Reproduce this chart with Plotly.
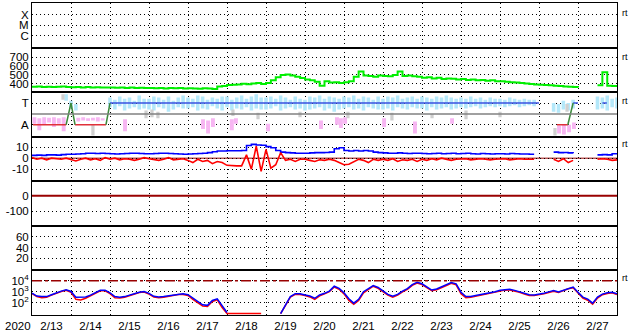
import plotly.graph_objects as go
from plotly.subplots import make_subplots
import pandas as pd

# ---------------- data ----------------
times3h = pd.date_range("2020-02-13 00:00", "2020-02-28 00:00", freq="3h")  # 121 samples

wind_speed = [
    368, 372, 365, 370, 366, 368, 372, 366,
    364, 366, 362, 365, 360, 364, 362, 360,
    362, 358, 360, 356, 360, 355, 358, 355,
    356, 352, 355, 350, 354, 352, 356, 350,
    352, 350, 348, 352, 350, 345, 372, 378,
    388, 392, 395, 402, 398, 405, 410, 400,
    410, 440, 475, 500, 505, 495, 480, 465,
    450, 440, 425, 380, 430, 415, 420, 410,
    420, 430, 480, 540, 495, 488, 480, 495,
    490, 485, 500, 540, 490, 495, 485, 480,
    470, 475, 460, 468, 455, 462, 458, 450,
    455, 445, 450, 440, 445, 435, 440, 430,
    430, 425, 420, 415, 410, 405, 400, 395,
    392, 388, 385, 380, 378, 372, 368, 365,
    362, None, None, None, 385, 530, 380, 378,
    375]

b_total = [
    2.5, 2.8, 2.5, 3.0, 3.0, 2.8, 3.2, 3.5,
    3.5, 3.8, 4.0, 4.5, 4.5, 4.2, 4.5, 4.3,
    4.0, 3.8, 4.0, 4.2, 4.5, 4.5, 4.3, 4.0,
    4.0, 4.2, 4.5, 4.5, 4.2, 4.0, 3.8, 3.5,
    3.8, 4.0, 4.2, 4.5, 5.0, 5.8, 6.5, 6.5,
    6.8, 6.8, 6.8, 7.0, 11.5, 12.5, 12.0, 11.8,
    10.5, 9.5, 7.0, 5.5, 5.0, 4.8, 4.5, 4.5,
    4.5, 4.8, 5.0, 5.0, 5.2, 5.5, 8.5, 9.5,
    7.0, 6.5, 7.0, 6.5, 7.0, 6.5, 5.5, 5.0,
    4.8, 4.5, 4.5, 4.8, 4.5, 4.2, 4.5, 4.5,
    4.2, 4.0, 4.2, 4.5, 4.0, 4.2, 4.5, 4.0,
    4.2, 4.5, 4.0, 3.8, 4.2, 4.0, 3.8, 4.0,
    4.0, 3.8, 4.2, 4.0, 3.8, 3.8, 3.5, 3.5,
    None, None, None, 5.5, 5.0, 5.2, 4.8, 4.5,
    None, None, None, None, 3.0, 3.2, 3.0, 4.0,
    4.0]

b_z = [
    0.5, -1.0, 0.0, -1.5, 0.0, -0.5, -1.0, 0.0,
    -1.0, -2.5, -1.0, 0.0, -1.5, -0.5, -2.0, 0.5,
    -1.0, 0.0, -1.5, -0.5, -1.0, -2.0, -1.0, 0.5,
    -0.5, -1.0, -2.0, -1.0, 0.5, -1.5, -1.0, -0.5,
    -2.0, -4.0, -1.0, -3.0, -2.0, -5.0, -3.0, -4.0,
    -6.5, -7.0, -7.0, -7.0, 3.0, -10.0, 11.0, -12.0,
    8.0, -9.0, -6.0, 5.0, -2.0, -1.0, -3.0, -1.0,
    -1.0, -2.0, -3.0, -1.5, -2.0, -1.0, -2.0, -4.0,
    -6.0, -5.5, -3.0, -1.0, -2.0, -4.0, -1.0, -2.0,
    -1.0, -2.0, -0.5, -3.0, -1.5, -2.0, -1.0, -3.0,
    -1.0, -2.0, -0.5, -1.5, 0.0, -1.0, -2.0, -1.0,
    -1.0, -0.5, -1.5, -1.0, -0.5, -1.0, -1.5, -1.0,
    -1.0, -0.5, -1.5, -1.0, -0.5, -1.0, -1.0, -1.0,
    None, None, None, -1.0, -3.0, -0.5, -4.0, -2.0,
    None, None, None, None, -1.0, -0.5, -1.0, -2.0,
    -1.5]

# electron flux, given as log10 exponent
flux_blue_exp = [
    2.86, 2.60, 2.56, 2.55, 2.72, 2.90, 3.05, 3.17,
    3.02, 2.50, 2.50, 2.52, 2.68, 2.90, 3.12, 3.14,
    2.90, 2.55, 2.50, 2.55, 2.70, 2.85, 2.95, 3.02,
    2.85, 2.58, 2.52, 2.55, 2.62, 2.72, 2.78, 2.80,
    2.72, 2.40, 2.10, 1.80, 1.75, 2.20, 2.35, 1.70,
    1.10, None, None, None, None, None, None, None,
    None, None, None, 1.00, 1.75, 2.56, 2.82, 2.80,
    2.70, 2.60, 2.40, 2.70, 2.85, 3.05, 3.50, 3.30,
    2.90, 2.35, 1.95, 2.30, 3.00, 3.30, 3.55, 3.38,
    3.05, 2.75, 2.58, 2.75, 3.05, 3.28, 3.65, 3.85,
    3.72, 3.45, 3.15, 3.25, 3.45, 3.62, 3.83, 3.72,
    2.95, 2.55, 2.55, 2.65, 2.72, 2.80, 2.88, 3.00,
    3.12, 3.20, 3.22, 3.12, 3.00, 2.85, 2.72, 2.70,
    2.75, 2.85, 2.98, 3.10, 2.98, 3.15, 3.30, 3.42,
    2.95, 2.50, 2.32, 1.95, 2.50, 2.78, 2.90, 2.95,
    2.80]

flux_red_exp = [
    2.82, 2.55, 2.45, 2.50, 2.68, 2.86, 3.02, 3.12,
    2.95, 2.30, 2.25, 2.40, 2.62, 2.86, 3.08, 3.08,
    2.82, 2.45, 2.42, 2.50, 2.66, 2.80, 2.92, 2.96,
    2.78, 2.50, 2.45, 2.50, 2.58, 2.68, 2.74, 2.75,
    2.65, 2.30, 2.00, 1.70, 1.65, 2.10, 2.25, 1.55,
    1.00, 1.00, 1.00, 1.00, 1.00, 1.00, 1.00, 1.00,
    None, None, None, 1.00, 1.70, 2.50, 2.76, 2.74,
    2.65, 2.52, 2.30, 2.62, 2.80, 3.00, 3.42, 3.22,
    2.80, 2.20, 1.85, 2.20, 2.90, 3.22, 3.50, 3.30,
    2.98, 2.68, 2.50, 2.68, 2.98, 3.22, 3.58, 3.78,
    3.65, 3.38, 3.08, 3.18, 3.40, 3.56, 3.76, 3.62,
    2.82, 2.45, 2.48, 2.58, 2.66, 2.74, 2.82, 2.94,
    3.06, 3.14, 3.16, 3.06, 2.94, 2.78, 2.66, 2.64,
    2.70, 2.80, 2.92, 3.04, 2.92, 3.10, 3.26, 3.36,
    2.85, 2.42, 2.22, 1.85, 2.42, 2.72, 2.84, 2.90,
    2.74]

# toward-sector cloud extent (T = 1, A = -1 on the sector scale)
toward_hi = [
    None, None, None, None, None, None, None, 1.8,
    1.2, 0.9, None, None, None, None, None, None,
    1.5, 1.3, 1.6, 1.4, 1.5, 1.2, 1.7, 1.4,
    1.4, 1.6, 1.5, 1.3, 1.6, 1.2, 1.5, 1.7,
    1.5, 1.4, 1.7, 1.6, 1.3, 1.5, 1.4, 1.6,
    1.6, 1.3, 1.5, 1.7, 1.4, 1.6, 1.8, 1.5,
    1.5, 1.6, 1.4, 1.7, 1.5, 1.3, 1.6, 1.4,
    1.3, 1.6, 1.5, 1.7, 1.4, 1.6, 1.5, 1.4,
    1.6, 1.5, 1.7, 1.4, 1.6, 1.5, 1.3, 1.6,
    1.4, 1.6, 1.5, 1.7, 1.4, 1.5, 1.6, 1.4,
    1.6, 1.5, 1.4, 1.6, 1.5, 1.7, 1.5, 1.4,
    1.5, 1.4, 1.6, 1.4, 1.5, 1.3, 1.5, 1.4,
    1.4, 1.3, 1.5, 1.4, 1.3, 1.4, 1.3, 1.3,
    None, None, None, 1.0, 0.9, 1.2, 1.0, 1.3,
    None, None, None, None, 1.6, 1.5, 1.7, 1.4,
    1.5]
toward_lo = [
    None, None, None, None, None, None, None, 1.2,
    0.5, 0.3, None, None, None, None, None, None,
    0.6, 0.4, 0.7, 0.3, 0.5, 0.6, 0.4, 0.5,
    0.4, 0.3, 0.6, 0.5, 0.2, 0.4, 0.6, 0.5,
    0.5, 0.6, 0.3, 0.5, 0.4, 0.7, 0.5, 0.3,
    0.6, 0.3, 0.5, 0.4, 0.6, 0.3, 0.5, 0.4,
    0.4, 0.5, 0.7, 0.3, 0.5, 0.6, 0.4, 0.5,
    0.3, 0.4, 0.5, 0.6, 0.3, 0.5, 0.2, 0.4,
    0.5, 0.6, 0.4, 0.5, 0.3, 0.6, 0.5, 0.4,
    0.4, 0.5, 0.3, 0.6, 0.5, 0.4, 0.6, 0.5,
    0.5, 0.3, 0.6, 0.4, 0.5, 0.6, 0.4, 0.5,
    0.6, 0.5, 0.6, 0.7, 0.5, 0.6, 0.7, 0.6,
    0.7, 0.6, 0.7, 0.8, 0.6, 0.7, 0.8, 0.7,
    None, None, None, 0.2, 0.1, 0.4, 0.3, 0.5,
    None, None, None, None, 0.4, 0.5, 0.3, 0.6,
    0.5]

away_time = [
    "2020-02-13 01:30", "2020-02-13 04:30", "2020-02-13 07:30", "2020-02-13 10:30",
    "2020-02-13 13:30", "2020-02-13 16:30", "2020-02-13 19:30",
    "2020-02-14 04:30", "2020-02-14 07:30", "2020-02-14 10:30", "2020-02-14 13:30",
    "2020-02-14 16:30", "2020-02-14 19:30",
    "2020-02-15 09:15", "2020-02-17 09:15", "2020-02-17 12:20", "2020-02-17 15:20",
    "2020-02-18 03:00", "2020-02-18 05:30", "2020-02-19 01:15", "2020-02-20 09:50",
    "2020-02-20 19:40", "2020-02-20 22:05", "2020-02-21 00:40", "2020-02-22 00:40",
    "2020-02-22 19:40", "2020-02-23 18:30", "2020-02-26 12:20", "2020-02-26 15:20",
    "2020-02-26 18:30", "2020-02-26 21:30"]
away_lo = [-0.9, -1.5, -1.0, -0.8, -1.2, -0.9, -1.6,
           -0.7, -0.6, -0.65, -0.6, -0.7, -0.6,
           -1.6, -1.4, -1.8, -1.2, -1.5, -0.9, -1.6, -1.4, -1.0, -1.3, -0.9,
           -1.2, -1.8, -0.9, -1.8, -1.9, -1.7, -1.4]
away_hi = [-0.3, -0.4, -0.3, -0.35, -0.3, -0.4, -0.3,
           -0.35, -0.3, -0.4, -0.35, -0.3, -0.4,
           -0.5, -0.5, -0.6, -0.4, -0.5, -0.4, -0.9, -0.6, -0.3, -0.4, -0.3,
           -0.4, -0.7, -0.4, -1.1, -1.0, -1.0, -0.8]

mixed_time = ["2020-02-13 19:05", "2020-02-14 13:30", "2020-02-15 22:10", "2020-02-16 01:50",
              "2020-02-16 05:30", "2020-02-18 03:40", "2020-02-18 19:05", "2020-02-19 20:55",
              "2020-02-21 02:25", "2020-02-22 05:30", "2020-02-23 06:10", "2020-02-24 03:05",
              "2020-02-25 00:00", "2020-02-26 09:50", "2020-02-26 17:15"]
mixed_lo = [1.3, -2.0, -0.4, -0.3, -0.4, -0.2, -0.5, -0.3, -0.4, -0.6, -0.4, -0.5, -0.3, -2.0, 0.2]
mixed_hi = [1.8, -1.0, 0.3, 0.4, 0.2, 0.4, 0.1, 0.2, 0.2, 0.1, 0.0, 0.3, 0.2, -1.3, 0.9]

sector_time = ["2020-02-13 00:40", "2020-02-13 21:00", "2020-02-14 00:00", "2020-02-14 02:30",
               "2020-02-14 21:30", "2020-02-15 00:00", "2020-02-26 00:00", None,
               "2020-02-26 11:00", "2020-02-26 17:45", "2020-02-26 21:00", "2020-02-27 00:00", None,
               "2020-02-27 15:00", "2020-02-27 17:45"]
sector_state = ["A", "A", "T", "A", "A", "T", "T", None,
                "A", "A", "T", "T", None, "T", "T"]

xray_ticks = ["X", "M", "C"]
speed_ticks = [700, 600, 500, 400]
sector_ticks = ["T", "A"]
bz_ticks = [10, 0, -10]
dst_ticks = [0, -100]
p6_ticks = [60, 40, 20]
flux_ticks = [1e4, 1e3, 1e2]
flux_alert = 1e4
year_label = "2020"

# ---------------- figure ----------------
FONT = "Liberation Sans, Arial, sans-serif"
fig = make_subplots(rows=7, cols=1, shared_xaxes=True, vertical_spacing=0)

# empty panels (no data in this period) still need their axes
for r in (1, 5, 6):
    fig.add_trace(go.Scatter(x=[], y=[], mode="lines", hoverinfo="skip"), row=r, col=1)

# panel 2: solar wind speed
fig.add_trace(go.Scatter(x=times3h, y=wind_speed, mode="lines",
                         line=dict(color="#00ee00", width=2, shape="hv")), row=2, col=1)

# panel 3: sector
fig.add_trace(go.Bar(x=times3h, y=[None if l is None else h - l for l, h in zip(toward_lo, toward_hi)],
                     base=toward_lo, width=2.2 * 3600e3,
                     marker=dict(color="#b4e8fa", line=dict(width=0))), row=3, col=1)
fig.add_trace(go.Bar(x=away_time, y=[h - l for l, h in zip(away_lo, away_hi)], base=away_lo,
                     width=2.4 * 3600e3, marker=dict(color="#f7b6f2", line=dict(width=0))), row=3, col=1)
fig.add_trace(go.Bar(x=mixed_time, y=[h - l for l, h in zip(mixed_lo, mixed_hi)], base=mixed_lo,
                     width=2.0 * 3600e3, marker=dict(color="#d0d0d0", line=dict(width=0))), row=3, col=1)

level = {"T": 1, "A": -1}
segs = {"A": ([], []), "T": ([], []), "X": ([], [])}
for i in range(len(sector_time) - 1):
    s0, s1 = sector_state[i], sector_state[i + 1]
    if s0 is None or s1 is None:
        continue
    key = s0 if s0 == s1 else "X"
    segs[key][0].extend([sector_time[i], sector_time[i + 1], None])
    segs[key][1].extend([level[s0], level[s1], None])
for key, col in (("A", "#e0303a"), ("T", "#3a52e0"), ("X", "#3d8a3d")):
    fig.add_trace(go.Scatter(x=segs[key][0], y=segs[key][1], mode="lines",
                             line=dict(color=col, width=1.5)), row=3, col=1)

# panel 4: IMF
fig.add_trace(go.Scatter(x=times3h, y=b_total, mode="lines",
                         line=dict(color="#0000ff", width=1.6, shape="hv")), row=4, col=1)
fig.add_trace(go.Scatter(x=times3h, y=b_z, mode="lines",
                         line=dict(color="#ff0000", width=1.6)), row=4, col=1)

# panel 7: electron flux
fig.add_trace(go.Scatter(x=times3h, y=[None if v is None else 10 ** v for v in flux_red_exp], mode="lines",
                         line=dict(color="#ff0000", width=1.5)), row=7, col=1)
fig.add_trace(go.Scatter(x=times3h, y=[None if v is None else 10 ** v for v in flux_blue_exp], mode="lines",
                         line=dict(color="#0000ff", width=1.5)), row=7, col=1)

# reference lines
fig.add_hline(y=0, line=dict(color="#808080", width=1.5), row=3, col=1, exclude_empty_subplots=False)
fig.add_hline(y=0, line=dict(color="#990000", width=1), layer="below", row=4, col=1, exclude_empty_subplots=False)
fig.add_hline(y=0, line=dict(color="#990000", width=2), row=5, col=1, exclude_empty_subplots=False)
fig.add_hline(y=flux_alert, line=dict(color="#990000", width=1.6, dash="10px,3px,3px,3px"),
              row=7, col=1, exclude_empty_subplots=False)

base = dict(showgrid=True, gridcolor="black", gridwidth=1, griddash="1,3",
            showline=True, linecolor="black", linewidth=1, mirror=True, ticks="",
            zeroline=False, tickfont=dict(family=FONT, size=11.5, color="black"))

for r in range(1, 8):
    fig.update_xaxes(type="date", range=["2020-02-13", "2020-02-28"], dtick=86400000, tick0="2020-02-13",
                     showticklabels=(r == 7), **base, row=r, col=1)
fig.update_xaxes(ticklabelmode="period", tickformat="%-m/%-d", row=7, col=1)

fig.update_yaxes(type="linear", range=[-0.13, 4.09], tickvals=[3, 2, 1], ticktext=xray_ticks, **base, row=1, col=1)
fig.update_yaxes(range=[309, 805], tickvals=speed_ticks, ticktext=[str(v) for v in speed_ticks], **base, row=2, col=1)
fig.update_yaxes(range=[-2.1, 2.0], tickvals=[level[s] for s in sector_ticks], ticktext=sector_ticks, **base, row=3, col=1)
fig.update_yaxes(range=[-21, 19.5], tickvals=bz_ticks, ticktext=[str(v) for v in bz_ticks], **base, row=4, col=1)
fig.update_yaxes(type="linear", range=[-197, 95.5], tickvals=dst_ticks, ticktext=[str(v) for v in dst_ticks], **base, row=5, col=1)
fig.update_yaxes(type="linear", range=[-2.5, 80.8], tickvals=p6_ticks, ticktext=[str(v) for v in p6_ticks], **base, row=6, col=1)
fig.update_yaxes(type="log", range=[0.87, 4.94], tickvals=flux_ticks,
                 ticktext=["10<sup>4</sup>", "10<sup>3</sup>", "10<sup>2</sup>"], **base, row=7, col=1)

annos = [dict(text=year_label, xref="paper", yref="paper", x=-0.024, y=-0.035,
              xanchor="center", yanchor="middle", showarrow=False,
              font=dict(family=FONT, size=11.5, color="black"))]
for yp in (0.968, 0.826, 0.687, 0.547, 0.117):
    annos.append(dict(text="rt", xref="paper", yref="paper", x=1.0, xshift=3, y=yp,
                      xanchor="left", yanchor="middle", showarrow=False,
                      font=dict(family=FONT, size=9, color="black")))

fig.update_layout(width=633, height=334, margin=dict(l=32, r=16, t=2, b=16),
                  paper_bgcolor="white", plot_bgcolor="white", showlegend=False,
                  barmode="overlay", annotations=annos,
                  font=dict(family=FONT, size=11.5, color="black"))

fig.write_html("out.html")
